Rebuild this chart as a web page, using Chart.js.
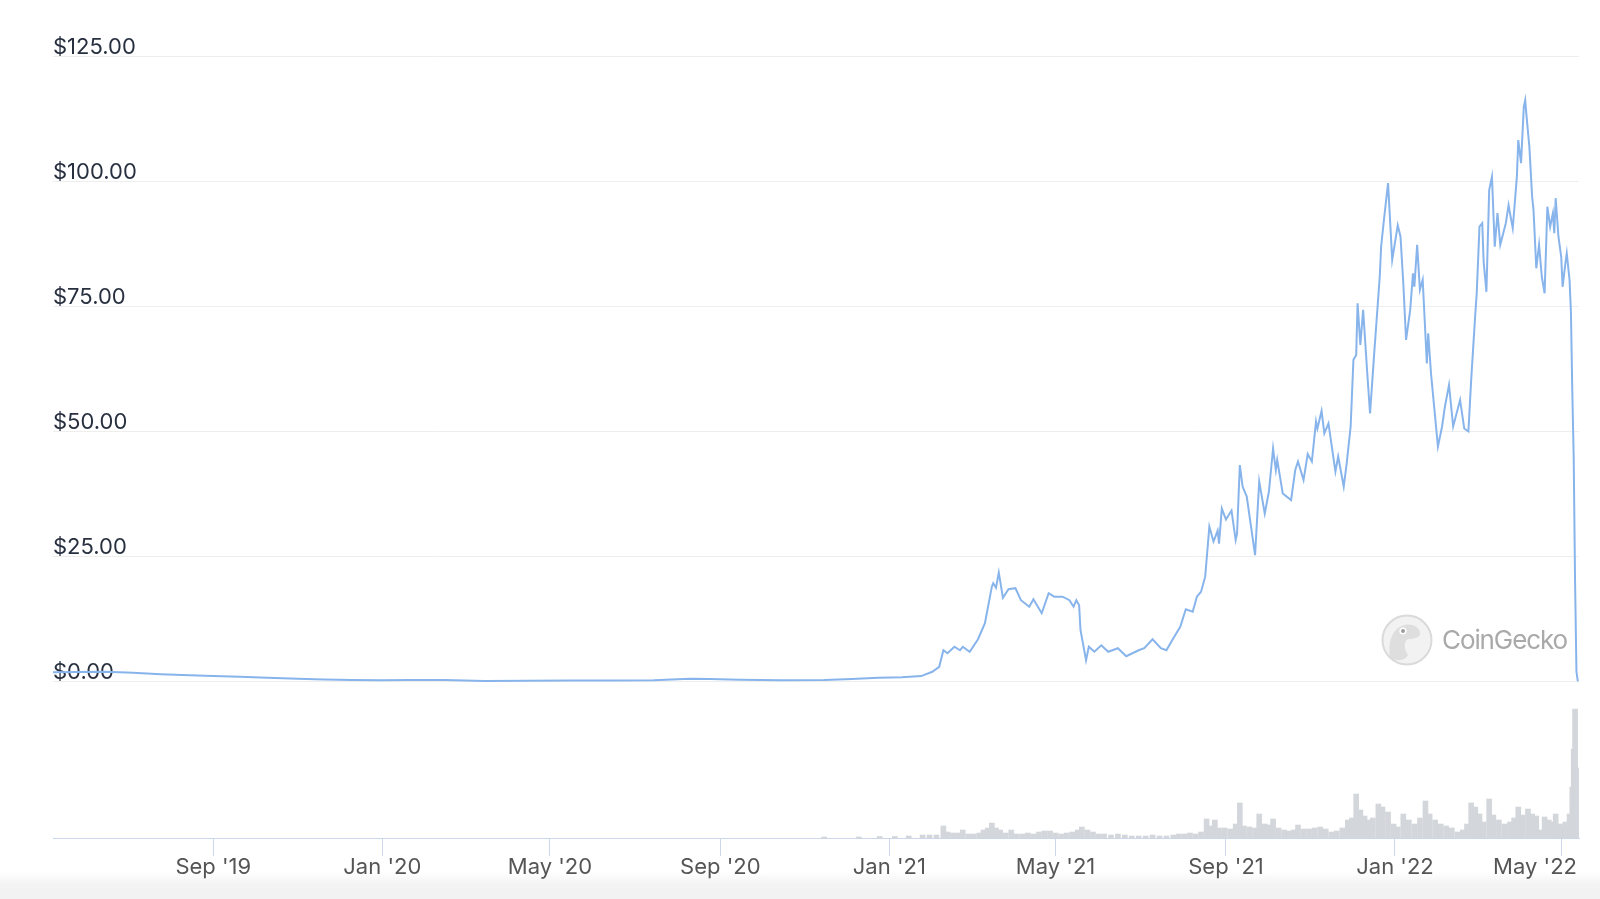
<!DOCTYPE html>
<html>
<head>
<meta charset="utf-8">
<title>LUNA price</title>
<script src="https://cdn.jsdelivr.net/npm/chart.js@4.4.0/dist/chart.umd.min.js"></script>
<style>
  html, body { margin: 0; padding: 0; background: #fff; }
  #wrap { position: relative; width: 1600px; height: 899px; overflow: hidden; }
  #band { position: absolute; left: 0; top: 872px; width: 1600px; height: 27px;
          background: linear-gradient(#ffffff, #f3f3f3 45%, #f2f2f2); }
  #myChart { position: absolute; left: 0; top: 0; }
  #logo { position: absolute; left: 1381px; top: 614px; height: 52px; }
  #logo svg { position: absolute; left: 0; top: 0; }
  #logo span { position: absolute; left: 61px; top: 11px; font-family: Inter, sans-serif;
               font-size: 26px; line-height: 29px; color: #a9a9a9; letter-spacing: -1.1px; white-space: nowrap; }
</style>
</head>
<body>
<div id="wrap">
  <div id="band"></div>
  <canvas id="myChart" width="1600" height="899"></canvas>
  <div id="logo">
    <svg width="52" height="52" viewBox="0 0 52 52">
      <circle cx="26" cy="26" r="24.5" fill="#f2f2f2" stroke="#dadada" stroke-width="2"/>
      <path d="M9 43 C7 30 10 15 23 11 C31 9 38 13 39 18 C40 23 34 25 28 25 C23 26 22 33 27 41 C24 47 15 48 9 43 Z" fill="#dedede"/>
      <circle cx="22" cy="17" r="3.6" fill="#fff"/>
      <circle cx="22" cy="17" r="2" fill="#9c9c9c"/>
    </svg>
    <span>CoinGecko</span>
  </div>
</div>
<script>
const lineBlue = '#88b4ec'
const volumeGrey = '#d3d6da'
const axisBlue = '#ccd6eb'

// price line (USD)
const priceDates = [
  '2019-05-08', '2019-05-25', '2019-06-15', '2019-07-05', '2019-07-25', '2019-08-15', '2019-09-01',
  '2019-09-20', '2019-10-10', '2019-11-01', '2019-11-20', '2019-12-10', '2020-01-01', '2020-01-20',
  '2020-02-15', '2020-03-15', '2020-04-15', '2020-05-15', '2020-06-15', '2020-07-15', '2020-08-10',
  '2020-08-25', '2020-09-15', '2020-10-15', '2020-11-15', '2020-12-05', '2020-12-24', '2021-01-10',
  '2021-01-24', '2021-02-01', '2021-02-06', '2021-02-09', '2021-02-12', '2021-02-17', '2021-02-21',
  '2021-02-23', '2021-02-28', '2021-03-06', '2021-03-11', '2021-03-16', '2021-03-17', '2021-03-19',
  '2021-03-21', '2021-03-24', '2021-03-28', '2021-04-02', '2021-04-06', '2021-04-12', '2021-04-15',
  '2021-04-21', '2021-04-26', '2021-04-30', '2021-05-06', '2021-05-11', '2021-05-14', '2021-05-16',
  '2021-05-18', '2021-05-19', '2021-05-23', '2021-05-25', '2021-05-29', '2021-06-03', '2021-06-08',
  '2021-06-15', '2021-06-21', '2021-06-30', '2021-07-04', '2021-07-10', '2021-07-16', '2021-07-20',
  '2021-07-25', '2021-07-30', '2021-08-03', '2021-08-08', '2021-08-11', '2021-08-14', '2021-08-17',
  '2021-08-20', '2021-08-23', '2021-08-26', '2021-08-27', '2021-08-29', '2021-09-01', '2021-09-05',
  '2021-09-08', '2021-09-09', '2021-09-11', '2021-09-13', '2021-09-16', '2021-09-22', '2021-09-25',
  '2021-09-29', '2021-10-02', '2021-10-05', '2021-10-07', '2021-10-08', '2021-10-12', '2021-10-18',
  '2021-10-21', '2021-10-23', '2021-10-27', '2021-10-30', '2021-11-02', '2021-11-05', '2021-11-06',
  '2021-11-09', '2021-11-11', '2021-11-14', '2021-11-19', '2021-11-21', '2021-11-25', '2021-11-27',
  '2021-11-30', '2021-12-02', '2021-12-04', '2021-12-05', '2021-12-07', '2021-12-09', '2021-12-12',
  '2021-12-14', '2021-12-17', '2021-12-21', '2021-12-22', '2021-12-24', '2021-12-27', '2021-12-30',
  '2022-01-03', '2022-01-05', '2022-01-07', '2022-01-09', '2022-01-12', '2022-01-14', '2022-01-15',
  '2022-01-17', '2022-01-19', '2022-01-21', '2022-01-24', '2022-01-25', '2022-01-27', '2022-02-01',
  '2022-02-04', '2022-02-06', '2022-02-09', '2022-02-12', '2022-02-17', '2022-02-20', '2022-02-23',
  '2022-02-25', '2022-02-28', '2022-03-01', '2022-03-03', '2022-03-05', '2022-03-06', '2022-03-08',
  '2022-03-10', '2022-03-12', '2022-03-14', '2022-03-16', '2022-03-18', '2022-03-22', '2022-03-24',
  '2022-03-25', '2022-03-27', '2022-03-30', '2022-03-31', '2022-04-02', '2022-04-04', '2022-04-05',
  '2022-04-06', '2022-04-08', '2022-04-10', '2022-04-11', '2022-04-13', '2022-04-15', '2022-04-17',
  '2022-04-19', '2022-04-21', '2022-04-23', '2022-04-25', '2022-04-26', '2022-04-27', '2022-04-29',
  '2022-05-01', '2022-05-02', '2022-05-04', '2022-05-05', '2022-05-07', '2022-05-08', '2022-05-09',
  '2022-05-10', '2022-05-11', '2022-05-12', '2022-05-13'
]
const prices = [
  1.9, 1.95, 2.0, 1.8, 1.5, 1.3, 1.15,
  1.0, 0.8, 0.6, 0.45, 0.35, 0.3, 0.35,
  0.35, 0.15, 0.2, 0.25, 0.25, 0.3, 0.6,
  0.55, 0.4, 0.3, 0.35, 0.55, 0.8, 0.9,
  1.14, 2.0, 3.0, 6.3, 5.7, 7.0, 6.3,
  7.0, 6.0, 8.5, 11.7, 19.0, 19.7, 18.8,
  21.8, 16.8, 18.5, 18.7, 16.3, 15.0, 16.5,
  13.7, 17.7, 17.0, 17.0, 16.3, 15.0, 16.3,
  15.3, 10.3, 4.3, 7.0, 6.0, 7.3, 6.0,
  6.7, 5.1, 6.3, 6.7, 8.5, 6.7, 6.3,
  8.7, 11.0, 14.5, 14.0, 17.0, 18.0, 21.0,
  31.0, 28.0, 30.2, 27.6, 34.6, 32.4, 34.2,
  28.3, 29.6, 43.3, 39.0, 37.0, 25.3, 40.0,
  33.6, 38.0, 46.6, 42.3, 44.3, 37.6, 36.3,
  42.3, 44.0, 40.3, 45.5, 44.0, 52.0, 50.6,
  54.1, 49.6, 51.6, 42.0, 45.0, 39.0, 43.3,
  51.0, 64.3, 65.3, 75.6, 67.3, 74.3, 61.6,
  53.6, 65.6, 80.9, 86.9, 92.2, 99.6, 84.3,
  91.2, 88.9, 79.6, 68.3, 74.3, 81.6, 78.9,
  87.3, 78.3, 80.3, 63.6, 69.6, 61.6, 47.0,
  51.0, 54.9, 59.3, 51.0, 56.3, 50.6, 50.0,
  60.3, 73.6, 77.6, 90.9, 91.6, 83.9, 77.9,
  98.2, 100.9, 86.9, 93.6, 87.3, 91.6, 95.2,
  93.6, 90.6, 100.9, 108.2, 103.6, 114.9, 116.2,
  112.9, 106.9, 96.9, 94.2, 82.6, 87.3, 80.9,
  77.6, 94.9, 90.9, 93.6, 89.6, 96.6, 88.9,
  84.9, 78.9, 83.6, 85.6, 80.3, 74.0, 58.0,
  45.0, 20.0, 2.0, 0.1
]

// trading volume, relative units
const volumeDates = [
  '2020-11-15', '2020-12-10', '2020-12-25', '2021-01-05', '2021-01-15', '2021-01-25', '2021-01-30',
  '2021-02-04', '2021-02-09', '2021-02-12', '2021-02-16', '2021-02-20', '2021-02-23', '2021-02-27',
  '2021-03-03', '2021-03-07', '2021-03-10', '2021-03-13', '2021-03-16', '2021-03-19', '2021-03-22',
  '2021-03-26', '2021-03-30', '2021-04-03', '2021-04-07', '2021-04-11', '2021-04-15', '2021-04-19',
  '2021-04-23', '2021-04-27', '2021-05-01', '2021-05-05', '2021-05-09', '2021-05-13', '2021-05-17',
  '2021-05-20', '2021-05-24', '2021-05-28', '2021-06-01', '2021-06-05', '2021-06-10', '2021-06-15',
  '2021-06-20', '2021-06-25', '2021-06-30', '2021-07-05', '2021-07-10', '2021-07-15', '2021-07-20',
  '2021-07-25', '2021-07-29', '2021-08-02', '2021-08-06', '2021-08-10', '2021-08-14', '2021-08-18',
  '2021-08-21', '2021-08-24', '2021-08-27', '2021-08-31', '2021-09-04', '2021-09-08', '2021-09-11',
  '2021-09-14', '2021-09-18', '2021-09-22', '2021-09-25', '2021-09-29', '2021-10-02', '2021-10-05',
  '2021-10-09', '2021-10-13', '2021-10-17', '2021-10-20', '2021-10-23', '2021-10-27', '2021-10-31',
  '2021-11-04', '2021-11-08', '2021-11-12', '2021-11-16', '2021-11-20', '2021-11-24', '2021-11-28',
  '2021-12-01', '2021-12-04', '2021-12-07', '2021-12-10', '2021-12-13', '2021-12-16', '2021-12-20',
  '2021-12-23', '2021-12-27', '2021-12-31', '2022-01-03', '2022-01-07', '2022-01-11', '2022-01-15',
  '2022-01-19', '2022-01-23', '2022-01-26', '2022-01-30', '2022-02-03', '2022-02-07', '2022-02-11',
  '2022-02-15', '2022-02-19', '2022-02-22', '2022-02-25', '2022-02-28', '2022-03-03', '2022-03-06',
  '2022-03-10', '2022-03-13', '2022-03-17', '2022-03-21', '2022-03-25', '2022-03-28', '2022-03-31',
  '2022-04-03', '2022-04-07', '2022-04-10', '2022-04-13', '2022-04-16', '2022-04-19', '2022-04-22',
  '2022-04-25', '2022-04-27', '2022-04-30', '2022-05-02', '2022-05-04', '2022-05-07', '2022-05-09',
  '2022-05-10', '2022-05-11', '2022-05-12'
]
const volumes = [
  1, 1, 1.5, 1.5, 2, 3, 3,
  3, 12, 6, 5, 5, 8, 4,
  4, 5, 8, 10, 15, 10, 8,
  5, 8, 4, 4, 5, 4, 6,
  7, 7, 5, 4, 5, 6, 8,
  11, 8, 6, 4, 4, 3, 4,
  3, 2, 2, 2, 3, 2, 2,
  3, 4, 4, 5, 4, 6, 19,
  12, 18, 10, 10, 9, 14, 35,
  12, 11, 10, 24, 14, 13, 19,
  10, 8, 7, 8, 13, 9, 9,
  10, 11, 9, 6, 7, 10, 18,
  20, 44, 28, 22, 18, 20, 34,
  31, 26, 14, 11, 24, 18, 14,
  20, 37, 24, 18, 14, 12, 10,
  6, 8, 14, 35, 31, 24, 16,
  39, 23, 18, 14, 16, 20, 31,
  23, 29, 24, 22, 8, 21, 18,
  16, 24, 14, 12, 16, 24, 51,
  89, 129, 70
]

const xStart = '2019-05-08T07:00:00Z'
const xEnd = '2022-05-13T20:00:00Z'
const tickDates = ['2019-09-01', '2020-01-01', '2020-05-01', '2020-09-01', '2021-01-01',
  '2021-05-01', '2021-09-01', '2022-01-01', '2022-05-01']
const tickLabels = ["Sep '19", "Jan '20", "May '20", "Sep '20", "Jan '21",
  "May '21", "Sep '21", "Jan '22", "May '22"]
const priceTicks = [0, 25, 50, 75, 100, 125]

const day = s => Date.parse(s.length > 10 ? s : s + 'T00:00:00Z')
const family = 'Inter, "Noto Sans", sans-serif'

// keep the last date label inside the plot, like the original
const lastLabelInside = {
  id: 'lastLabelInside',
  beforeDraw(chart) {
    const items = chart.scales.x.getLabelItems()
    const last = items[items.length - 1]
    if (last) {
      last.options.textAlign = 'right'
      last.options.translation[0] = chart.chartArea.right - 2
    }
  }
}

new Chart(document.getElementById('myChart'), {
  type: 'line',
  data: {
    datasets: [{
      type: 'line',
      data: prices.map((p, i) => ({ x: day(priceDates[i]), y: p })),
      borderColor: lineBlue,
      borderWidth: 2,
      pointRadius: 0,
      tension: 0,
      yAxisID: 'y'
    }, {
      type: 'bar',
      data: volumes.map((v, i) => ({ x: day(volumeDates[i]), y: v })),
      backgroundColor: volumeGrey,
      barThickness: 5,
      yAxisID: 'yv'
    }]
  },
  options: {
    responsive: false,
    animation: false,
    layout: { padding: { left: 53, top: 56, right: 21, bottom: 0 } },
    plugins: { legend: { display: false }, tooltip: { enabled: false } },
    scales: {
      x: {
        type: 'linear',
        offset: false,
        min: day(xStart),
        max: day(xEnd),
        afterBuildTicks: s => { s.ticks = tickDates.map(d => ({ value: day(d) })) },
        afterFit: s => { s.height = 61; s.paddingLeft = 0; s.paddingRight = 0 },
        ticks: {
          autoSkip: false,
          maxRotation: 0,
          padding: -2,
          color: '#555555',
          font: { family: family, size: 22 },
          callback: (v, i) => tickLabels[i]
        },
        grid: { offset: false, drawOnChartArea: false, tickLength: 18, color: axisBlue },
        border: { color: axisBlue }
      },
      y: {
        min: -31.2,
        max: 125,
        afterBuildTicks: s => { s.ticks = priceTicks.map(v => ({ value: v })) },
        afterFit: s => { s.width = 0; s.paddingTop = 0; s.paddingBottom = 0 },
        ticks: {
          mirror: true,
          padding: 0,
          labelOffset: -9,
          color: '#283040',
          font: { family: family, size: 22 },
          callback: v => '$' + v.toFixed(2)
        },
        grid: { color: '#eeeeee', drawTicks: false },
        border: { display: false }
      },
      yv: { min: 0, max: 782, display: false }
    }
  },
  plugins: [lastLabelInside]
})
</script>
</body>
</html>
